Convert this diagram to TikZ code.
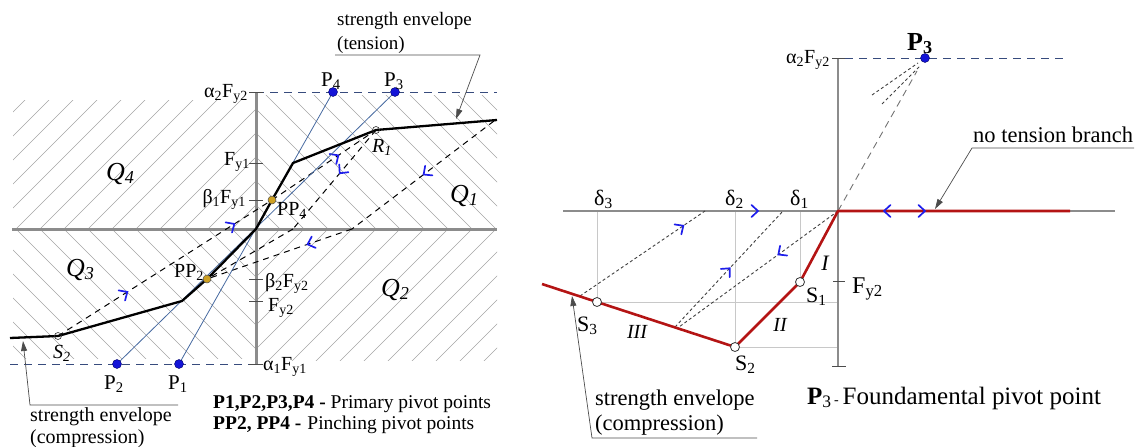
\documentclass[tikz,border=0pt]{standalone}
\usepackage{fontspec}
\setmainfont{Liberation Serif}
\usetikzlibrary{arrows.meta,decorations.markings}
\newcommand{\sbs}[1]{\textsubscript{#1}}
\newcommand{\fsz}[1]{\fontsize{#1}{#1}\selectfont}
\definecolor{axisgray}{RGB}{140,140,140}
\definecolor{hatchgray}{RGB}{165,165,165}
\definecolor{pivotblue}{RGB}{20,20,215}
\definecolor{lineblue}{RGB}{70,105,160}
\definecolor{dashblue}{RGB}{55,75,125}
\definecolor{envred}{RGB}{180,20,20}
\definecolor{ppyellow}{RGB}{205,160,35}
\definecolor{bluearrow}{RGB}{30,30,235}
\definecolor{thingray}{RGB}{200,200,200}
\newcommand{\barb}{\draw[bluearrow, solid, line width=1.7pt, line cap=round, line join=miter] (-5.5pt,-6pt) -- (1pt,0pt) -- (-5.5pt,6pt);}
\begin{document}
\begin{tikzpicture}[x=1pt,y=-1pt,
  hatch/.style={draw=hatchgray, line width=0.55pt},
  axisline/.style={draw=axisgray, line width=3pt},
  tickline/.style={draw=black!70, line width=0.8pt},
  limitline/.style={draw=dashblue, line width=1pt, dash pattern=on 8pt off 6pt},
  envelope/.style={draw=black, line width=2.3pt, line join=round},
  redenv/.style={draw=envred, line width=2.6pt, line join=round},
  pivotline/.style={draw=lineblue, line width=0.8pt},
  pathline/.style={draw=black, line width=1pt, dash pattern=on 6pt off 5pt},
  dotline/.style={draw=black!75, line width=0.9pt, dash pattern=on 3pt off 2.5pt},
  longdash/.style={draw=black!55, line width=0.9pt, dash pattern=on 7pt off 5pt},
  constr/.style={draw=thingray, line width=0.6pt},
  pivotdot/.style={circle, fill=pivotblue, draw=blue!40!black, line width=0.4pt, inner sep=0pt, minimum size=9pt},
  pinchdot/.style={circle, fill=ppyellow, draw=black!70, line width=0.5pt, inner sep=0pt, minimum size=8pt},
  opendot/.style={circle, fill=white, draw=black!80, line width=0.8pt, inner sep=0pt, minimum size=9pt},
  lab/.style={inner sep=0pt, font=\fsz{20}},
  biglab/.style={inner sep=0pt, font=\fsz{22}},
  qlab/.style={inner sep=0pt, font=\fsz{26}\itshape},
  legend/.style={inner sep=0pt, font=\fsz{19.5}},
  leader/.style={draw=black!70, line width=0.7pt, -{Triangle[length=10pt,width=6pt]}},
  barbone/.style={postaction={decorate, decoration={markings, mark=at position #1 with {\barb}}}},
  barbtwo/.style 2 args={postaction={decorate, decoration={markings, mark=at position #1 with {\barb}, mark=at position #2 with {\barb}}}}
]
\useasboundingbox (0,0) rectangle (1141,447);

%================ LEFT DIAGRAM =================
% hatching
\begin{scope}
  \clip (13,100) rectangle (256,229);
  \foreach \k in {-17,...,0} \draw[hatch] ({256+24*\k},229) -- ++(170,-170);
\end{scope}
\begin{scope}
  \clip (256,95) rectangle (497,229);
  \foreach \k in {0,...,17} \draw[hatch] ({256+24*\k},229) -- ++(-170,-170);
\end{scope}
\begin{scope}
  \clip (13,229) rectangle (256,358);
  \foreach \k in {-17,...,0} \draw[hatch] ({256+24*\k},229) -- ++(170,170);
\end{scope}
\begin{scope}
  \clip (256,229) rectangle (497,360);
  \foreach \k in {0,...,17} \draw[hatch] ({256+24*\k},229) -- ++(-170,170);
\end{scope}

% key points
\coordinate (O) at (256,229);
\coordinate (VT) at (256,92);
\coordinate (VB) at (256,364);
\coordinate (HL) at (12,229);
\coordinate (HR) at (497,229);
\coordinate (TR) at (497,92);
\coordinate (BL) at (10,364);
\coordinate (LA) at (10,338);
\coordinate (S2) at (58,336);
\coordinate (K3) at (182,301);
\coordinate (PP2) at (207,279);
\coordinate (PP4) at (272,200);
\coordinate (K1) at (293,163);
\coordinate (R1) at (376,130);
\coordinate (RE) at (497,120);
\coordinate (P1) at (179,364);
\coordinate (P2) at (117,364);
\coordinate (P3) at (395,92);
\coordinate (P4) at (333,92);
\coordinate (B0) at (494,121);
\coordinate (B1) at (352,229);
\coordinate (C2) at (293,229);

% axes
\draw[axisline] (HL) -- (HR);
\draw[axisline] (VT) -- (VB);
\draw[limitline] (VT) -- (TR);
\draw[limitline] (BL) -- (VB);
\foreach \yy in {92,163,200,279,301,364} \draw[tickline] (249,\yy) -- (263,\yy);

% unloading / reloading paths
\draw[pathline, barbtwo={0.32}{0.82}] (S2) -- (PP4);
\draw[pathline, barbone={0.63}] (PP4) -- (R1);
\draw[pathline, barbone={0.49}] (B0) -- (B1);
\draw[pathline, barbone={0.30}] (B1) -- (PP2);
\draw[pathline, barbone={0.43}] (R1) -- (C2);
\draw[pathline] (C2) -- (PP2);

% pivot lines
\draw[pivotline] (P1) -- (P4);
\draw[pivotline] (P2) -- (P3);

% envelope
\draw[envelope] (LA) -- (S2) -- (K3) -- (PP2) -- (O) -- (PP4) -- (K1) -- (R1) -- (RE);

% points
\node[pivotdot] (dP1) at (P1) {};
\node[pivotdot] (dP2) at (P2) {};
\node[pivotdot] (dP3) at (P3) {};
\node[pivotdot] (dP4) at (P4) {};
\node[pinchdot] (dPP2) at (PP2) {};
\node[pinchdot] (dPP4) at (PP4) {};
\node[circle, draw=black!80, fill=none, inner sep=0pt, minimum size=7pt, line width=0.6pt] (dR1) at (R1) {};
\node[circle, draw=black!80, fill=none, inner sep=0pt, minimum size=7pt, line width=0.6pt] (dS2) at (S2) {};

% axis labels
\node[lab, anchor=base east] (la2) at (248,97) {α\sbs{2}F\sbs{y2}};
\node[lab, anchor=base east] (lfy1) at (250,165) {F\sbs{y1}};
\node[lab, anchor=base east] (lb1) at (246,203) {β\sbs{1}F\sbs{y1}};
\node[lab, anchor=base west] (lb2) at (265,287) {β\sbs{2}F\sbs{y2}};
\node[lab, anchor=base west] (lfy2) at (268,311) {F\sbs{y2}};
\node[lab, anchor=base west] (la1) at (263,370) {α\sbs{1}F\sbs{y1}};

% point labels
\node[lab, font=\fsz{21}, anchor=base west] (tP4) at (321,86) {P\sbs{4}};
\node[lab, font=\fsz{21}, anchor=base west] (tP3) at (384,86) {P\sbs{3}};
\node[lab, font=\fsz{21}, anchor=base west] (tP2) at (104,389) {P\sbs{2}};
\node[lab, font=\fsz{21}, anchor=base west] (tP1) at (168,389) {P\sbs{1}};
\node[lab, anchor=base west] (tPP4) at (277,215) {PP\sbs{4}};
\node[lab, anchor=base west] (tPP2) at (174,277) {PP\sbs{2}};
\node[lab, font=\fsz{20}\itshape, anchor=base west] (tR1) at (372,152) {R\sbs{1}};
\node[lab, font=\fsz{20}\itshape, anchor=base west] (tS2) at (53,358) {S\sbs{2}};

% quadrant labels
\node[qlab, anchor=base west] (q4) at (106,180) {Q\sbs{4}};
\node[qlab, anchor=base west] (q1) at (450,202) {Q\sbs{1}};
\node[qlab, anchor=base west] (q3) at (66,276) {Q\sbs{3}};
\node[qlab, anchor=base west] (q2) at (381,296) {Q\sbs{2}};

% leaders and texts
\node[legend, font=\fsz{19}, anchor=base west] (tenA) at (337,25) {strength envelope};
\node[legend, font=\fsz{19}, anchor=base west] (tenB) at (337,49) {(tension)};
\coordinate (ld1a) at (335,55);
\coordinate (ld1b) at (480,55);
\coordinate (ld1c) at (456,119);
\draw[leader] (ld1a) -- (ld1b) -- (ld1c);

\node[legend, font=\fsz{20}, anchor=base west] (cmpA) at (30,421) {strength envelope};
\node[legend, font=\fsz{20}, anchor=base west] (cmpB) at (30,443) {(compression)};
\coordinate (ld2a) at (178,405);
\coordinate (ld2b) at (30,405);
\coordinate (ld2c) at (23,341);
\draw[leader] (ld2a) -- (ld2b) -- (ld2c);

\node[legend, anchor=base west] (leg1) at (213,408) {\textbf{P1,P2,P3,P4 -} Primary pivot points};
\node[legend, anchor=base west] (leg2) at (213,429) {\textbf{PP2, PP4 -}\hspace{6pt}Pinching pivot points};

%================ RIGHT DIAGRAM =================
\coordinate (O2) at (838,211);
\coordinate (V2T) at (838,58);
\coordinate (V2B) at (838,366);
\coordinate (H2L) at (563,211);
\coordinate (H2R) at (1115,211);
\coordinate (T2R) at (1067,58);
\coordinate (S1r) at (800,282);
\coordinate (S2r) at (735,347);
\coordinate (S3r) at (597,302);
\coordinate (LEr) at (542,284);
\coordinate (TEr) at (1070,211);
\coordinate (P3r) at (925,58);
\coordinate (L1a) at (580,296);
\coordinate (L1b) at (705,211);
\coordinate (L2a) at (675,327);
\coordinate (L2b) at (783,211);
\coordinate (L3b) at (679,327);
\coordinate (F1a) at (872,95);
\coordinate (F1b) at (918,63);
\coordinate (F2a) at (882,104);
\coordinate (F2b) at (920,66);
\coordinate (PT) at (917,71);
\coordinate (D3) at (597,211);
\coordinate (D2) at (735,211);
\coordinate (D1) at (800,211);
\coordinate (A302) at (838,302);
\coordinate (A347) at (838,347);

% construction lines
\draw[constr] (D3) -- (S3r);
\draw[constr] (D2) -- (S2r);
\draw[constr] (D1) -- (S1r);
\draw[constr] (S3r) -- (A302);
\draw[constr] (S2r) -- (A347);

% axes
\draw[axisline, line width=2.6pt] (H2L) -- (H2R);
\draw[axisline, line width=2.6pt] (V2T) -- (V2B);
\draw[limitline] (845,58) -- (T2R);
\draw[tickline] (832,58) -- (845,58);
\draw[tickline] (832,366) -- (846,366);
\draw[tickline] (833,281) -- (845,281);

% dashed paths
\draw[longdash] (O2) -- (PT);
\draw[dotline] (F1a) -- (F1b);
\draw[dotline] (F2a) -- (F2b);
\draw[dotline, barbone={0.82}] (L1a) -- (L1b);
\draw[dotline, barbone={0.50}] (L2a) -- (L2b);
\draw[dotline, barbone={0.37}] (O2) -- (L3b);

% envelope
\draw[redenv] (LEr) -- (S3r) -- (S2r) -- (S1r) -- (O2) -- (TEr);

% blue arrows on axis and tension branch
\coordinate (ax1a) at (745,211);
\coordinate (ax1b) at (757,211);
\coordinate (ax2a) at (897,211);
\coordinate (ax2b) at (885,211);
\coordinate (ax3a) at (912,211);
\coordinate (ax3b) at (924,211);
\path[barbone={1}] (ax1a) -- (ax1b);
\path[barbone={1}] (ax2a) -- (ax2b);
\path[barbone={1}] (ax3a) -- (ax3b);

% points
\node[opendot] (dS1r) at (S1r) {};
\node[opendot] (dS2r) at (S2r) {};
\node[opendot] (dS3r) at (S3r) {};
\node[pivotdot] (dP3r) at (P3r) {};

% labels
\node[lab, anchor=base east] (ra2) at (830,63) {α\sbs{2}F\sbs{y2}};
\node[lab, font=\fsz{24}, anchor=base west] (rfy2) at (852,293) {F\sbs{y2}};
\node[lab, font=\fsz{26}\bfseries, anchor=base west] (rP3) at (907,50) {P\sbs{3}};
\node[biglab, anchor=base west] (rd3) at (594,205) {δ\sbs{3}};
\node[biglab, anchor=base west] (rd2) at (725,205) {δ\sbs{2}};
\node[biglab, anchor=base west] (rd1) at (790,205) {δ\sbs{1}};
\node[biglab, anchor=base west] (rS1) at (806,302) {S\sbs{1}};
\node[biglab, anchor=base west] (rS2) at (735,370) {S\sbs{2}};
\node[biglab, anchor=base west] (rS3) at (577,331) {S\sbs{3}};
\node[biglab, font=\fsz{22}\itshape, anchor=base] (rI) at (825,270) {I};
\node[biglab, font=\fsz{20}\itshape, anchor=base] (rII) at (780,331) {II};
\node[biglab, font=\fsz{20}\itshape, anchor=base] (rIII) at (637,338) {III};

% leaders
\node[legend, font=\fsz{22.5}, anchor=base west] (ntb) at (973,142) {no tension branch};
\coordinate (ld3a) at (1134,148);
\coordinate (ld3b) at (972,148);
\coordinate (ld3c) at (935,209);
\draw[leader] (ld3a) -- (ld3b) -- (ld3c);

\node[legend, font=\fsz{22.5}, anchor=base west] (rcA) at (595,405) {strength envelope};
\node[legend, font=\fsz{22.5}, anchor=base west] (rcB) at (595,430) {(compression)};
\coordinate (ld4a) at (757,438);
\coordinate (ld4b) at (592,438);
\coordinate (ld4c) at (572,296);
\draw[leader] (ld4a) -- (ld4b) -- (ld4c);

\node[legend, font=\fsz{25}, anchor=base west] (fpp) at (807,404) {\textbf{P}\sbs{3}{\fsz{14}\,-}\hspace{4pt}Foundamental pivot point};
\end{tikzpicture}
\end{document}
